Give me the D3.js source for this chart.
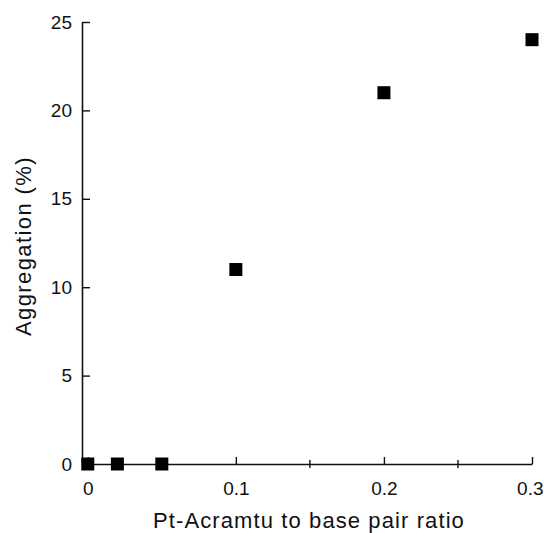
<!DOCTYPE html>
<html>
<head>
<meta charset="utf-8">
<script src="https://cdn.jsdelivr.net/npm/d3@7"></script>
<style>
  html, body { margin: 0; padding: 0; background: #fff; }
  svg { display: block; }
  text { font-family: Arial, "Liberation Sans", Helvetica, sans-serif; fill: #111; }
</style>
</head>
<body>
<svg id="chart" width="544" height="533"></svg>
<script>
// Platinum-acridine to base pair ratio vs. aggregation
const ratios = [0, 0.02, 0.05, 0.1, 0.2, 0.3];
const aggregation = [0, 0, 0, 11, 21, 24];

const xMajorTicks = [0, 0.1, 0.2, 0.3];
const xMinorTicks = [0.05, 0.15, 0.25];
const yTicks = [0, 5, 10, 15, 20, 25];

const xTitle = "Pt-Acramtu to base pair ratio";
const yTitle = "Aggregation (%)";

const svg = d3.select("#chart");
const plotLeft = 82, plotRight = 532, plotTop = 22, plotBottom = 464;
const width = +svg.attr("width");

const x = d3.scaleLinear().domain([-0.0039, 0.3]).range([plotLeft, plotRight]);
const y = d3.scaleLinear().domain([0, 25]).range([plotBottom, plotTop]);

const ink = "#111";

// x axis: major ticks point up into the plot, labels below
const xAxis = svg.append("g")
  .attr("transform", `translate(0,${plotBottom})`)
  .call(d3.axisBottom(x)
    .tickValues(xMajorTicks)
    .tickSizeInner(-7)
    .tickSizeOuter(0)
    .tickFormat(d => d === 0 ? "0" : d3.format(".1f")(d)));
xAxis.select(".domain").attr("stroke", ink).attr("stroke-width", 1.6);
xAxis.selectAll(".tick line").attr("stroke", ink).attr("stroke-width", 1.4);
xAxis.selectAll(".tick text")
  .attr("font-size", 19).attr("fill", ink)
  .attr("dy", 0).attr("y", 31)
  .attr("font-family", "Arial, 'Liberation Sans', sans-serif");

// keep the last label inside the canvas edge
xAxis.selectAll(".tick text").each(function () {
  const box = this.getBBox();
  const tickX = x(d3.select(this.parentNode).datum());
  const overflow = tickX + box.x + box.width - (width - 1);
  if (overflow > 0) d3.select(this).attr("x", -overflow);
});

// minor ticks crossing the x axis
xAxis.selectAll(".minor")
  .data(xMinorTicks)
  .join("line")
  .attr("class", "minor")
  .attr("x1", d => x(d)).attr("x2", d => x(d))
  .attr("y1", -4).attr("y2", 4)
  .attr("stroke", ink).attr("stroke-width", 1.4);

// y axis: ticks point right into the plot, labels at left
const yAxis = svg.append("g")
  .attr("transform", `translate(${plotLeft},0)`)
  .call(d3.axisLeft(y)
    .tickValues(yTicks)
    .tickSizeInner(-8)
    .tickSizeOuter(0));
yAxis.select(".domain").attr("stroke", ink).attr("stroke-width", 1.6);
yAxis.selectAll(".tick line").attr("stroke", ink).attr("stroke-width", 1.4);
yAxis.selectAll(".tick text")
  .attr("font-size", 19).attr("fill", ink)
  .attr("x", -10)
  .attr("font-family", "Arial, 'Liberation Sans', sans-serif");

// data markers
const size = 13;
svg.append("g")
  .selectAll("rect")
  .data(ratios.map((r, i) => ({ r, v: aggregation[i] })))
  .join("rect")
  .attr("x", d => x(d.r) - size / 2)
  .attr("y", d => y(d.v) - size / 2)
  .attr("width", size)
  .attr("height", size)
  .attr("fill", "#000");

// axis titles
svg.append("text")
  .attr("x", 309).attr("y", 528)
  .attr("text-anchor", "middle")
  .attr("font-size", 22)
  .attr("letter-spacing", 1.1)
  .text(xTitle);

svg.append("text")
  .attr("transform", `translate(31,246) rotate(-90)`)
  .attr("text-anchor", "middle")
  .attr("font-size", 22)
  .attr("letter-spacing", 1.4)
  .text(yTitle);
</script>
</body>
</html>
